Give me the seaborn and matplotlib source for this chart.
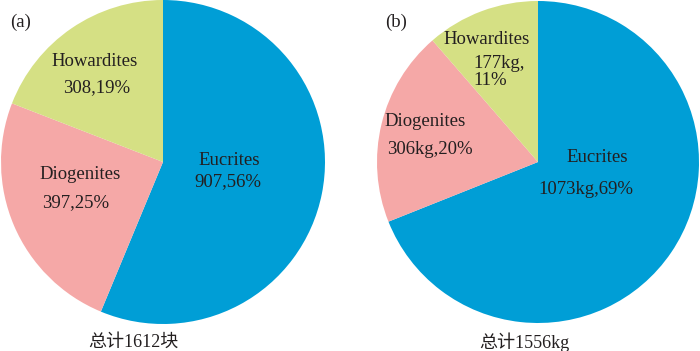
import seaborn as sns
import matplotlib.pyplot as plt

#-----------------------------------------------------------------------------------------------------------------------
"""Data"""
types = ['Eucrites', 'Diogenites', 'Howardites']
counts = [907, 397, 308]          # (a) number of pieces
masses = [1073, 306, 177]         # (b) mass in kg

colors = ['#009ed6', '#f5a8a7', '#d5e084']

#-----------------------------------------------------------------------------------------------------------------------
"""Style"""
sns.set_theme(style='white')
plt.rcParams['font.family'] = ['Liberation Serif', 'Noto Sans CJK SC']
txt_color = '#231f20'
fs = 13.5

fig = plt.figure(figsize=(7, 3.51), dpi=100)
ax1 = fig.add_axes([1 / 700, 27 / 351, 324 / 700, 324 / 351])
ax2 = fig.add_axes([377 / 700, 28 / 351, 322 / 700, 322 / 351])


def draw_pie(ax, values):
    ax.pie(values, colors=colors, startangle=90, counterclock=False, radius=1,
           wedgeprops=dict(linewidth=0))
    ax.set_xlim(-1, 1)
    ax.set_ylim(-1, 1)
    ax.set_aspect('equal')
    ax.axis('off')


#-----------------------------------------------------------------------------------------------------------------------
"""(a) counts"""
draw_pie(ax1, counts)
tot1 = sum(counts)
pct1 = [round(v / tot1 * 100) for v in counts]
val1 = [f'{v},{p}%' for v, p in zip(counts, pct1)]

name_pos1 = [(0.41, 0.01), (-0.51, -0.08), (-0.42, 0.62)]
val_pos1 = [(0.40, -0.12), (-0.54, -0.25), (-0.41, 0.46)]
for name, v, npos, vpos in zip(types, val1, name_pos1, val_pos1):
    ax1.text(*npos, name, ha='center', va='center', fontsize=fs, color=txt_color)
    ax1.text(*vpos, v, ha='center', va='center', fontsize=fs, color=txt_color)

#-----------------------------------------------------------------------------------------------------------------------
"""(b) masses"""
draw_pie(ax2, masses)
tot2 = sum(masses)
pct2 = [round(v / tot2 * 100) for v in masses]
val2 = [f'{v}kg,{p}%' for v, p in zip(masses, pct2)]
val2[2] = val2[2].replace(',', ',\n')

name_pos2 = [(0.37, 0.03), (-0.70, 0.25), (-0.32, 0.76)]
val_pos2 = [(0.30, -0.17), (-0.67, 0.08), (-0.40, 0.56)]
val_ha2 = ['center', 'center', 'left']
for name, v, npos, vpos, ha in zip(types, val2, name_pos2, val_pos2, val_ha2):
    ax2.text(*npos, name, ha='center', va='center', fontsize=fs, color=txt_color)
    ax2.text(*vpos, v, ha=ha, va='center', fontsize=fs, color=txt_color,
             linespacing=0.95)

#-----------------------------------------------------------------------------------------------------------------------
"""Panel letters and totals"""
fig.text(10 / 700, 1 - 22 / 351, '(a)', ha='left', va='center', fontsize=fs, color=txt_color)
fig.text(385 / 700, 1 - 22 / 351, '(b)', ha='left', va='center', fontsize=fs, color=txt_color)
fig.text(133 / 700, 1 - 342 / 351, f'总计{tot1}块', ha='center', va='center', fontsize=13, color=txt_color)
fig.text(524 / 700, 1 - 342 / 351, f'总计{tot2}kg', ha='center', va='center', fontsize=13, color=txt_color)

fig.savefig('out.png', dpi=100)
